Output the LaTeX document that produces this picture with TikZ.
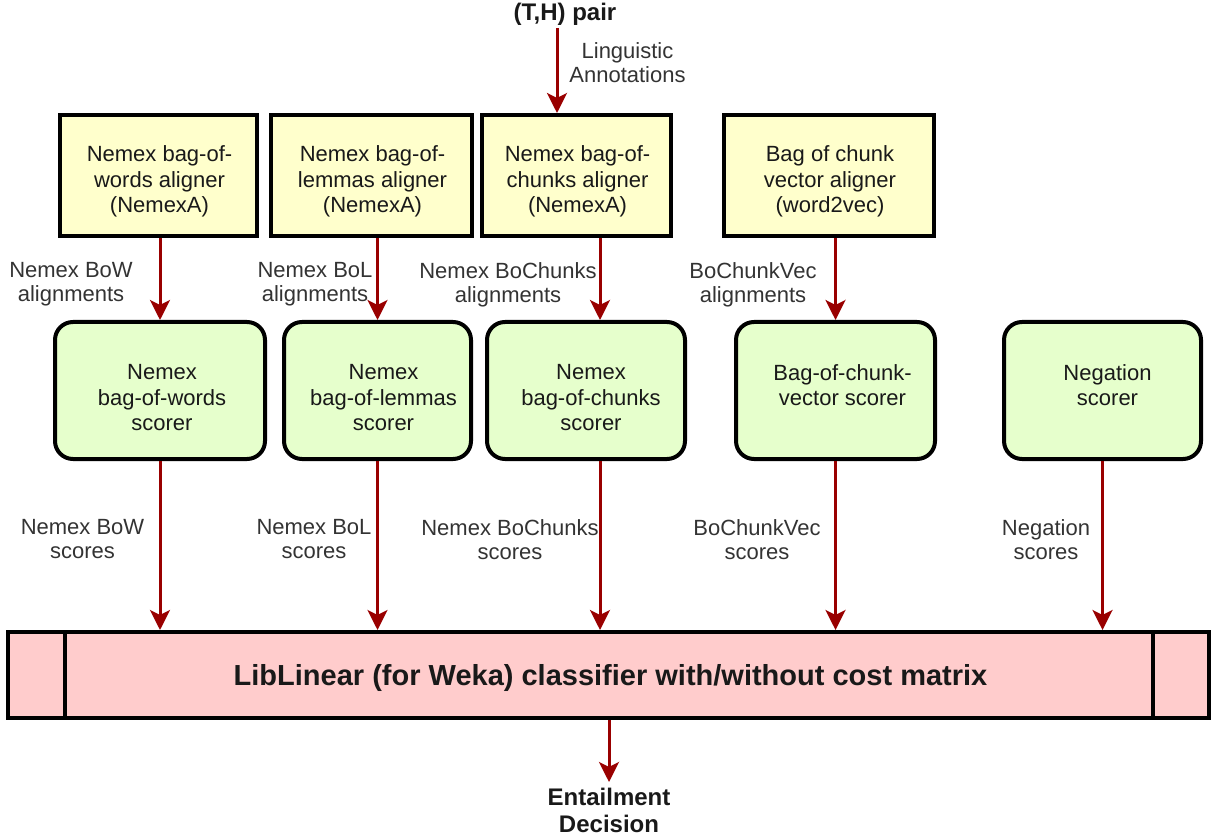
\documentclass[tikz,border=0pt]{standalone}
\usepackage{fontspec}
\setmainfont{Liberation Sans}
\usetikzlibrary{arrows.meta,calc}
\definecolor{alignfill}{HTML}{FFFFCC}
\definecolor{scorefill}{HTML}{E6FFCC}
\definecolor{classfill}{HTML}{FFCCCC}
\definecolor{flowred}{HTML}{990000}
\definecolor{labelgray}{HTML}{333333}

\begin{document}
\begin{tikzpicture}[x=0.5pt,y=-0.5pt,
  aligner/.style={draw=black, line width=2pt, fill=alignfill, inner sep=0pt,
    minimum height=60.5pt},
  boxtext/.style={inner sep=0pt, align=center,
    font=\fontsize{11}{12.8}\selectfont, text=black!90},
  scorer/.style={draw=black, line width=2pt, fill=scorefill,
    rounded corners=9pt, inner sep=0pt, minimum height=68.5pt},
  classifier/.style={draw=black, line width=2pt, fill=classfill, inner sep=0pt,
    minimum width=600.5pt, minimum height=43pt},
  flow/.style={draw=flowred, line width=1.5pt,
    -{Stealth[length=10pt,width=10pt,inset=2.5pt]}},
  edgelabel/.style={anchor=north, inner sep=0pt, align=center,
    font=\fontsize{11}{12}\selectfont, text=labelgray},
  io/.style={inner sep=0pt, align=center,
    font=\fontsize{12}{13.5}\selectfont\bfseries, text=black!90},
]
\useasboundingbox (0,0) rectangle (1214,839);

% input and output
\node[io, anchor=base] (thpair) at (565,21) {(T,H) pair};
\node[io, anchor=north] (dec) at (609,788) {Entailment\\Decision};

% aligners
\node[aligner, minimum width=98.5pt]  (y1) at (158.5,175.5) {};
\node[aligner, minimum width=100.5pt] (y2) at (371.5,175.5) {};
\node[aligner, minimum width=94.5pt]  (y3) at (576.5,175.5) {};
\node[aligner, minimum width=105pt]   (y4) at (829,175.5)   {};
\node[boxtext] (y1t) at ($(y1.center)+(1,6)$) {Nemex bag-of-\\words aligner\\(NemexA)};
\node[boxtext] (y2t) at ($(y2.center)+(1,6)$) {Nemex bag-of-\\lemmas aligner\\(NemexA)};
\node[boxtext] (y3t) at ($(y3.center)+(1,6)$) {Nemex bag-of-\\chunks aligner\\(NemexA)};
\node[boxtext] (y4t) at ($(y4.center)+(1,6)$) {Bag of chunk\\vector aligner\\(word2vec)};

% scorers
\node[scorer, minimum width=105pt]  (g1) at (160,390.5) {};
\node[scorer, minimum width=93.5pt] (g2) at (377.5,390.5) {};
\node[scorer, minimum width=99pt]   (g3) at (586,390.5) {};
\node[scorer, minimum width=99.5pt] (g4) at (835.5,390.5) {};
\node[scorer, minimum width=98.5pt] (g5) at (1102.5,390.5) {};
\node[boxtext, anchor=north] (g1t) at ($(g1.north)+(2,44)$) {Nemex\\bag-of-words\\scorer};
\node[boxtext, anchor=north] (g2t) at ($(g2.north)+(6,44)$) {Nemex\\bag-of-lemmas\\scorer};
\node[boxtext, anchor=north] (g3t) at ($(g3.north)+(5,44)$) {Nemex\\bag-of-chunks\\scorer};
\node[boxtext, anchor=north] (g4t) at ($(g4.north)+(7,44)$) {Bag-of-chunk-\\vector scorer};
\node[boxtext, anchor=north] (g5t) at ($(g5.north)+(5,44)$) {Negation\\scorer};

% classifier bar with its two side compartments
\node[classifier] (cls) at (608.5,675) {};
\node[inner sep=0pt, font=\fontsize{14.5}{16}\selectfont\bfseries, text=black!90]
  (clst) at ($(cls.center)+(2,3)$) {LibLinear (for Weka) classifier with/without cost matrix};
\coordinate (dl) at (65,0);
\coordinate (dr) at (1153,0);
\draw[line width=2pt] (cls.north west -| dl) -- (cls.south west -| dl);
\draw[line width=2pt] (cls.north east -| dr) -- (cls.south east -| dr);

% connectors
\coordinate (inTop) at (557,28);
\coordinate (c3) at (600,0);
\coordinate (outEnd) at (609,782);
\draw[flow] (inTop) -- (inTop |- y3.north);
\draw[flow] (y1.south -| g1.north) -- (g1.north);
\draw[flow] (y2.south -| g2.north) -- (g2.north);
\draw[flow] (y3.south -| c3) -- (g3.north -| c3);
\draw[flow] (y4.south -| g4.north) -- (g4.north);
\draw[flow] (g1.south) -- (g1.south |- cls.north);
\draw[flow] (g2.south) -- (g2.south |- cls.north);
\draw[flow] (g3.south -| c3) -- (cls.north -| c3);
\draw[flow] (g4.south) -- (g4.south |- cls.north);
\draw[flow] (g5.south) -- (g5.south |- cls.north);
\draw[flow] (cls.south -| outEnd) -- (outEnd);

% connector labels
\node[edgelabel] (lingu) at (627.5,42) {Linguistic\\Annotations};
\node[edgelabel] (aBoW) at (71,262)  {Nemex BoW\\alignments};
\node[edgelabel] (aBoL) at (315,262) {Nemex BoL\\alignments};
\node[edgelabel] (aBoC) at (508,262) {Nemex BoChunks\\alignments};
\node[edgelabel] (aVec) at (753,262) {BoChunkVec\\alignments};
\node[edgelabel] (sBoW) at (82.5,519) {Nemex BoW\\scores};
\node[edgelabel] (sBoL) at (314,519)  {Nemex BoL\\scores};
\node[edgelabel] (sBoC) at (510,519)  {Nemex BoChunks\\scores};
\node[edgelabel] (sVec) at (757,519)  {BoChunkVec\\scores};
\node[edgelabel] (sNeg) at (1046,519) {Negation\\scores};
\end{tikzpicture}
\end{document}
